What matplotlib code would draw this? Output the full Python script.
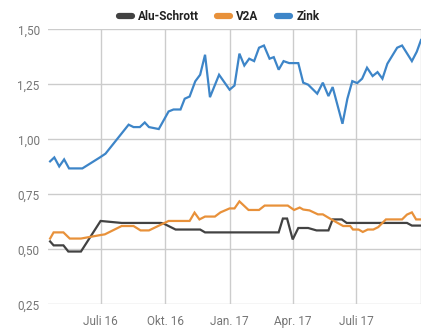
import pandas as pd
import matplotlib.pyplot as plt
import matplotlib.dates as mdates
from matplotlib.lines import Line2D

plt.rcParams['font.family'] = ['Roboto', 'DejaVu Sans']

# price series (EUR/kg), one entry per turning point of the curve
zink_dates = ["2016-04-20", "2016-04-26", "2016-05-03", "2016-05-10", "2016-05-17",
              "2016-06-05", "2016-06-30", "2016-07-08", "2016-08-10", "2016-08-17",
              "2016-08-26", "2016-09-02", "2016-09-08", "2016-09-22", "2016-10-06",
              "2016-10-13", "2016-10-23", "2016-10-29", "2016-11-05", "2016-11-13",
              "2016-11-20", "2016-11-27", "2016-12-04", "2016-12-17", "2017-01-01",
              "2017-01-08", "2017-01-15", "2017-01-22", "2017-01-29", "2017-02-05",
              "2017-02-12", "2017-02-19", "2017-02-27", "2017-03-05", "2017-03-12",
              "2017-03-19", "2017-03-27", "2017-04-09", "2017-04-16", "2017-04-23",
              "2017-05-06", "2017-05-14", "2017-05-22", "2017-05-28", "2017-06-11",
              "2017-06-18", "2017-06-25", "2017-07-02", "2017-07-09", "2017-07-16",
              "2017-07-24", "2017-07-31", "2017-08-07", "2017-08-14", "2017-08-28",
              "2017-09-04", "2017-09-18", "2017-09-25", "2017-10-01"]
zink = [0.90, 0.918, 0.877, 0.909, 0.868,
        0.868, 0.918, 0.935, 1.067, 1.056,
        1.056, 1.077, 1.056, 1.047, 1.127,
        1.136, 1.136, 1.185, 1.195, 1.264,
        1.294, 1.385, 1.192, 1.294, 1.226,
        1.245, 1.39, 1.336, 1.367, 1.356,
        1.417, 1.427, 1.367, 1.374, 1.317,
        1.356, 1.347, 1.347, 1.258, 1.249,
        1.208, 1.258, 1.197, 1.238, 1.071,
        1.185, 1.265, 1.256, 1.276, 1.326,
        1.288, 1.306, 1.276, 1.344, 1.417,
        1.427, 1.356, 1.399, 1.452]

alu_dates = ["2016-04-20", "2016-04-25", "2016-05-09", "2016-05-16", "2016-06-03",
             "2016-07-01", "2016-07-31", "2016-09-25", "2016-09-29", "2016-10-16",
             "2016-11-20", "2016-11-27", "2017-03-12", "2017-03-18", "2017-03-24",
             "2017-04-01", "2017-04-09", "2017-04-23", "2017-05-05", "2017-05-22",
             "2017-05-28", "2017-06-10", "2017-06-17", "2017-09-11", "2017-09-18",
             "2017-10-01"]
alu = [0.536, 0.518, 0.518, 0.490, 0.490,
       0.629, 0.620, 0.620, 0.617, 0.590,
       0.590, 0.577, 0.577, 0.640, 0.640,
       0.545, 0.597, 0.597, 0.586, 0.586,
       0.636, 0.636, 0.620, 0.620, 0.608,
       0.608]

v2a_dates = ["2016-04-20", "2016-04-25", "2016-05-09", "2016-05-18", "2016-06-03",
             "2016-07-01", "2016-07-07", "2016-07-31", "2016-08-17", "2016-08-27",
             "2016-09-08", "2016-10-06", "2016-11-05", "2016-11-12", "2016-11-19",
             "2016-11-27", "2016-12-11", "2016-12-19", "2017-01-01", "2017-01-08",
             "2017-01-15", "2017-01-28", "2017-02-12", "2017-02-20", "2017-03-25",
             "2017-04-03", "2017-04-11", "2017-04-16", "2017-04-25", "2017-05-07",
             "2017-05-14", "2017-05-24", "2017-06-12", "2017-06-22", "2017-06-26",
             "2017-07-04", "2017-07-10", "2017-07-17", "2017-07-25", "2017-08-01",
             "2017-08-12", "2017-09-04", "2017-09-11", "2017-09-18", "2017-09-24",
             "2017-10-01"]
v2a = [0.549, 0.577, 0.577, 0.549, 0.549,
       0.565, 0.568, 0.606, 0.606, 0.586,
       0.586, 0.629, 0.629, 0.667, 0.636,
       0.649, 0.649, 0.668, 0.686, 0.686,
       0.718, 0.679, 0.679, 0.699, 0.699,
       0.679, 0.690, 0.681, 0.677, 0.659,
       0.659, 0.640, 0.606, 0.606, 0.590,
       0.590, 0.579, 0.590, 0.590, 0.601,
       0.636, 0.636, 0.658, 0.668, 0.636,
       0.636]

series = [("Alu-Schrott", alu_dates, alu, "#424242"),
          ("V2A", v2a_dates, v2a, "#e8913a"),
          ("Zink", zink_dates, zink, "#3d85c8")]

fig = plt.figure(figsize=(4.33, 3.31), dpi=100)
ax = fig.add_axes([48 / 433, 0.0807, 373 / 433, 0.8303])

for name, d, v, c in series:
    ax.plot(pd.to_datetime(d), v, color=c, lw=1.6, label=name,
            solid_joinstyle="miter")

ax.set_xlim(pd.Timestamp("2016-04-17"), pd.Timestamp("2017-10-01"))
ax.set_ylim(0.25, 1.50)

ticks = pd.to_datetime(["2016-07-01", "2016-10-01", "2017-01-01",
                        "2017-04-01", "2017-07-01"])
ax.set_xticks(ticks)
ax.set_xticklabels(["Juli 16", "Okt. 16", "Jan. 17", "Apr. 17", "Juli 17"])
ax.set_xticks([pd.Timestamp("2017-10-01")], minor=True)
yt = [0.25, 0.50, 0.75, 1.00, 1.25, 1.50]
ax.set_yticks(yt)
ax.set_yticklabels([f"{t:.2f}".replace(".", ",") for t in yt])

ax.grid(True, which="both", color="#cccccc", lw=1)
ax.set_axisbelow(True)
for s in ax.spines.values():
    s.set_visible(False)
ax.tick_params(which="both", length=0, labelsize=8.5, colors="#757575")
ax.tick_params(axis="x", pad=8)
ax.tick_params(axis="y", pad=6)

handles = [Line2D([], [], color=c, lw=4.5, solid_capstyle="round")
           for _, _, _, c in series]
fig.legend(handles, [s[0] for s in series], loc="center",
           bbox_to_anchor=(219 / 433, 1 - 17 / 331), ncol=3, frameon=False,
           handlelength=1.1, handletextpad=0.5, columnspacing=1.6,
           prop={"weight": "bold", "size": 8.5}, labelcolor="#222222")

fig.savefig("out.png", dpi=100)
